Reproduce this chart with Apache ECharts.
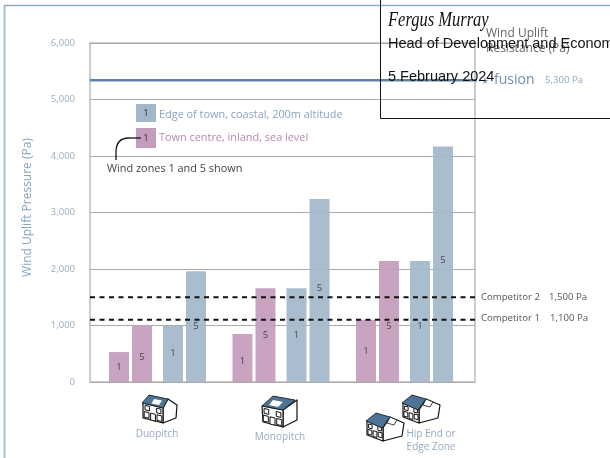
<!DOCTYPE html>
<html><head><meta charset="utf-8">
<style>html,body{margin:0;padding:0;background:#fff}#c{width:610px;height:458px}</style>
<script src="https://cdn.jsdelivr.net/npm/echarts@6/dist/echarts.min.js"></script>
</head><body><div id="c"></div>
<script>
const categories = ['Duopitch', 'Monopitch', 'Hip End or\nEdge Zone'];
const townZone1 = [530, 850, 1100];
const townZone5 = [1000, 1660, 2140];
const edgeZone1 = [1000, 1660, 2140];
const edgeZone5 = [1960, 3240, 4170];
const competitor1 = 1100;
const competitor2 = 1500;
const fusionLevel = 5340;
const yMax = 6000, yStep = 1000;
const legendEdge = 'Edge of town, coastal, 200m altitude';
const legendTown = 'Town centre, inland, sea level';

const FONT = 'Open Sans';
const BLUE = '#a2b8ca', PINK = '#c59dbc', ROOF = '#4d7397';
const chart = echarts.init(document.getElementById('c'), null, {renderer: 'canvas'});

function text(x, y, t, size, color, extra) {
  return {type: 'text', x, y, z: 20, style: Object.assign({text: t, fontFamily: FONT, fontSize: size, fill: color, verticalAlign: 'middle', align: 'left'}, extra || {})};
}
function poly(points, fill, lw) {
  return {type: 'polygon', shape: {points}, style: {fill, stroke: '#111', lineWidth: lw === undefined ? 1.2 : lw, lineJoin: 'round'}};
}
function windows(fx, fy, w, h) {
  const at = (u, v) => [fx + u * w, fy + u * w * 0.25 + v * h];
  const pane = (u0, u1, v0, v1) => poly([at(u0, v0), at(u1, v0), at(u1, v1), at(u0, v1)], '#fff', 1);
  return [pane(.1, .32, .12, .42), pane(.68, .9, .12, .42), pane(.06, .3, .55, .92), pane(.38, .62, .55, 1), pane(.7, .94, .55, .92)];
}
function house(ox, oy, kind) {
  const c = [];
  if (kind === 'duo') {
    c.push(poly([[21,13],[26,4],[35,10],[34,23],[21,28]], '#fff'));
    c.push(poly([[1,8],[21,13],[21,28],[1,23]], '#fff'));
    c.push(...windows(1, 8, 20, 15));
    c.push(poly([[7,0],[26,4],[21,13],[0,8]], ROOF, 0.8));
    c.push(poly([[12,4],[20,5.5],[17,10],[9.5,8.5]], '#fff', 0));
  } else if (kind === 'mono') {
    c.push(poly([[22,14],[36,4],[36,24],[22,31]], '#fff'));
    c.push(poly([[1,10],[22,14],[22,31],[2,26]], '#fff'));
    c.push(...windows(1, 10, 21, 16));
    c.push(poly([[12,0],[34,4],[22,14],[1,10]], ROOF, 0.8));
    c.push(poly([[12,4],[22,6],[17,11],[8,9]], '#fff', 0));
  } else {
    c.push(poly([[17,15],[24,4],[38,10],[36,23],[17,28]], '#fff'));
    c.push(poly([[1,8],[17,15],[17,28],[1,22]], '#fff'));
    c.push(...windows(1, 9, 16, 13));
    c.push(poly([[10,0],[24,4],[16,15],[0,8]], ROOF, 0.8));
    c.push(poly([[24,4],[31,7],[28,12],[21,10]], '#fff', 0.8));
  }
  return {type: 'group', x: ox, y: oy, z: 15, children: c};
}

const labelNudges = {town5: [4, 0, 5], edge1: [0, 0, 5], town1: [0, 3, 0], edge5: [0, -2, -4]};
function barSeries(name, values, color, nudge) {
  return {
    type: 'bar', name, xAxisIndex: 1, yAxisIndex: 1, barWidth: 20, barGap: '15%', z: 3,
    itemStyle: {color, opacity: 0.93},
    data: values.map((v, i) => ({value: v, label: {offset: [0, nudge[i]]}})),
    label: {show: true, position: 'inside', formatter: name.slice(-1), fontFamily: FONT, fontSize: 9.5, color: '#3d3d3d'}
  };
}
function refLine(name, v, style, end) {
  return {type: 'line', name, xAxisIndex: 0, yAxisIndex: 0, symbol: 'none', clip: false, silent: true, z: 6,
    lineStyle: style, data: [[0, v], [end, v]]};
}
const yLabelColor = '#97adc3';
const catColor = '#94aac1';
const option = {
  animation: false,
  backgroundColor: '#fff',
  grid: [
    {left: 90, top: 43, width: 385, height: 339, show: true, borderColor: '#bdbdbd', borderWidth: 1.5, backgroundColor: 'transparent'},
    {left: 95.75, top: 43, width: 370.5, height: 339}
  ],
  xAxis: [
    {type: 'value', gridIndex: 0, min: 0, max: 1, show: false},
    {type: 'category', gridIndex: 1, data: categories, show: false}
  ],
  yAxis: [
    {type: 'value', gridIndex: 0, min: 0, max: yMax, interval: yStep,
      name: 'Wind Uplift Pressure (Pa)', nameLocation: 'middle', nameGap: 56, nameRotate: 90,
      nameTextStyle: {fontFamily: FONT, fontSize: 12, color: '#86a4c0', padding: [0, 0, 0, 10]},
      axisLine: {show: false}, axisTick: {show: false},
      axisLabel: {fontFamily: FONT, fontSize: 9.5, color: yLabelColor, margin: 15, formatter: v => v.toLocaleString('en-US')},
      splitLine: {show: true, lineStyle: {color: '#ababab', width: 1}}},
    {type: 'value', gridIndex: 1, min: 0, max: yMax, interval: yStep, show: false}
  ],
  series: [
    barSeries('Town centre, zone 1', townZone1, PINK, labelNudges.town1),
    barSeries('Town centre, zone 5', townZone5, PINK, labelNudges.town5),
    {type: 'bar', name: 'gap', xAxisIndex: 1, yAxisIndex: 1, barWidth: 7, barGap: '15%', data: categories.map(() => '-')},
    barSeries('Edge of town, zone 1', edgeZone1, BLUE, labelNudges.edge1),
    barSeries('Edge of town, zone 5', edgeZone5, BLUE, labelNudges.edge5),
    refLine('Competitor 1', competitor1, {color: '#111', width: 2, type: [5, 4.5]}, 1),
    refLine('Competitor 2', competitor2, {color: '#111', width: 2, type: [5, 4.5]}, 1),
    refLine('Fusion', fusionLevel, {color: '#5c82a6', width: 2.5}, 1.012)
  ],
  graphic: {elements: [
    {type: 'line', shape: {x1: 4.5, y1: 5.5, x2: 4.5, y2: 458}, style: {stroke: '#a9c0d6', lineWidth: 2}, z: 1},
    {type: 'line', shape: {x1: 4, y1: 5.5, x2: 610, y2: 5.5}, style: {stroke: '#8fabc6', lineWidth: 1.5}, z: 1},
    {type: 'rect', shape: {x: 136, y: 104, width: 20, height: 18}, style: {fill: BLUE}, z: 10},
    {type: 'rect', shape: {x: 136, y: 128, width: 20, height: 20}, style: {fill: PINK}, z: 10},
    text(146, 113, '1', 9.5, '#333', {align: 'center'}),
    text(146, 138, '1', 9.5, '#333', {align: 'center'}),
    text(159, 115, legendEdge, 10.9, '#86a4c0'),
    text(159, 138, legendTown, 10.9, '#bb86ae'),
    {type: 'line', z: 12, shape: {x1: 141, y1: 138, x2: 129, y2: 138}, style: {stroke: '#111', lineWidth: 1.3}},
    {type: 'bezierCurve', z: 12, shape: {x1: 129, y1: 138, cpx1: 116, cpy1: 138, x2: 116, y2: 152}, style: {fill: 'none', stroke: '#111', lineWidth: 1.3}},
    {type: 'line', z: 12, shape: {x1: 116, y1: 152, x2: 116, y2: 160}, style: {stroke: '#111', lineWidth: 1.3}},
    text(107, 168.5, 'Wind zones 1 and 5 shown', 10.9, '#444'),
    text(481, 297, 'Competitor 2', 9.6, '#555'),
    text(549, 297, '1,500 Pa', 9.6, '#555'),
    text(481, 318.5, 'Competitor 1', 9.6, '#555'),
    text(550, 318.5, '1,100 Pa', 9.6, '#555'),
    text(486, 34, 'Wind Uplift', 12, '#666'),
    text(486, 49, 'Resistance (Pa)', 12, '#666'),
    text(481, 82, '\u2605', 9, '#7f9fc0', {fontFamily: 'DejaVu Sans'}),
    text(494, 80, 'fusion', 14, '#6f90b0'),
    text(545, 80.5, '5,300 Pa', 9.6, '#8fa9c6'),
    text(157, 434, categories[0], 10, catColor, {align: 'center'}),
    text(280, 437, categories[1], 10, catColor, {align: 'center'}),
    text(431, 441, categories[2], 10, catColor, {align: 'center', lineHeight: 13}),
    house(142, 395, 'duo'),
    house(261, 396, 'mono'),
    house(402, 395, 'hip'),
    house(366, 413, 'hip'),
    {type: 'rect', z: 30, shape: {x: 380.5, y: -2, width: 240, height: 120.5}, style: {fill: 'none', stroke: '#111', lineWidth: 1}},
    {type: 'text', z: 31, x: 388, y: 21, scaleY: 1.25, style: {text: 'Fergus Murray', fontFamily: 'Liberation Serif', fontStyle: 'italic', fontSize: 16.5, fill: '#111', verticalAlign: 'middle'}},
    {type: 'text', z: 31, x: 388, y: 44, style: {text: 'Head of Development and Economics', fontFamily: 'Liberation Sans', fontSize: 14.5, fill: '#111', verticalAlign: 'middle'}},
    {type: 'text', z: 31, x: 388, y: 77, style: {text: '5 February 2024', fontFamily: 'Liberation Sans', fontSize: 14.5, fill: '#111', verticalAlign: 'middle'}}
  ]}
};
chart.setOption(option);
</script></body></html>
